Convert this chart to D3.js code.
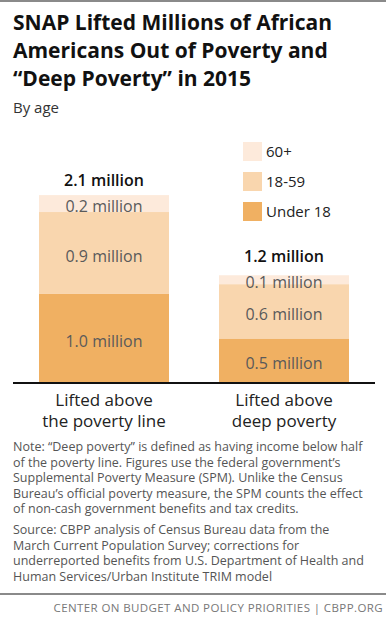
<!DOCTYPE html>
<html>
<head>
<meta charset="utf-8">
<script src="https://cdn.jsdelivr.net/npm/d3@7"></script>
<style>
  body { margin: 0; background: #fff; }
  svg { display: block; font-family: "Open Sans", sans-serif; }
</style>
</head>
<body>
<svg id="chart" width="386" height="630"></svg>
<script>
// data
var categories = [["Lifted above", "the poverty line"], ["Lifted above", "deep poverty"]];
var groups = ["Under 18", "18-59", "60+"];
var under18 = [1.0, 0.5];
var age18to59 = [0.92, 0.61];
var age60plus = [0.19, 0.1];
var colors = ["#f0b062", "#f9d6ae", "#fdeadb"];

var titleLines = ["SNAP Lifted Millions of African", "Americans Out of Poverty and", "\u201cDeep Poverty\u201d in 2015"];
var noteLines = [
  "Note: \u201cDeep poverty\u201d is defined as having income below half",
  "of the poverty line. Figures use the federal government\u2019s",
  "Supplemental Poverty Measure (SPM). Unlike the Census",
  "Bureau\u2019s official poverty measure, the SPM counts the effect",
  "of non-cash government benefits and tax credits."
];
var sourceLines = [
  "Source: CBPP analysis of Census Bureau data from the",
  "March Current Population Survey; corrections for",
  "underreported benefits from U.S. Department of Health and",
  "Human Services/Urban Institute TRIM model"
];

var svg = d3.select("#chart");

// rahmen oben / unten
svg.append("rect").attr("x", 0).attr("y", 0).attr("width", 386).attr("height", 2).attr("fill", "#8a8a8a");
svg.append("rect").attr("x", 0).attr("y", 593).attr("width", 386).attr("height", 2).attr("fill", "#8a8a8a");

// title
svg.append("g").selectAll("text")
  .data(titleLines)
  .enter()
  .append("text")
  .attr("x", 13)
  .attr("y", function(d, i){ return 30 + i * 28; })
  .attr("font-size", "21px")
  .attr("font-weight", "bold")
  .attr("fill", "#111")
  .text(function(d){ return d; });

svg.append("text")
  .attr("x", 13).attr("y", 113)
  .attr("font-size", "15px")
  .attr("fill", "#333")
  .text("By age");

// stack data
var rows = categories.map(function(c, i){
  return { cat: i, "Under 18": under18[i], "18-59": age18to59[i], "60+": age60plus[i] };
});
var stack = d3.stack().keys(groups);
var series = stack(rows);

var x = d3.scaleBand()
  .domain(d3.range(categories.length))
  .range([39, 349])
  .paddingInner(50 / 180)
  .paddingOuter(0);

var y = d3.scaleLinear()
  .domain([0, 2.1])
  .range([383, 196]);

var bars = svg.append("g");

series.forEach(function(s, k){
  var g = bars.append("g").attr("fill", colors[k]);
  g.selectAll("rect")
    .data(s)
    .enter()
    .append("rect")
    .attr("x", function(d, i){ return x(i); })
    .attr("y", function(d){ return y(d[1]); })
    .attr("width", x.bandwidth())
    .attr("height", function(d){ return y(d[0]) - y(d[1]); });

  // segment labels
  bars.append("g").selectAll("text")
    .data(s)
    .enter()
    .append("text")
    .attr("x", function(d, i){ return x(i) + x.bandwidth() / 2; })
    .attr("y", function(d){ return (y(d[0]) + y(d[1])) / 2 + 3; })
    .attr("dy", "0.35em")
    .attr("text-anchor", "middle")
    .attr("font-size", "16px")
    .attr("fill", "#5a5a5a")
    .text(function(d){ return (d[1] - d[0]).toFixed(1) + " million"; });
});

// totals
var totals = rows.map(function(r){ return r["Under 18"] + r["18-59"] + r["60+"]; });
svg.append("g").selectAll("text")
  .data(totals)
  .enter()
  .append("text")
  .attr("x", function(d, i){ return x(i) + x.bandwidth() / 2; })
  .attr("y", function(d, i){ return y(d) - (i == 0 ? 9 : 13); })
  .attr("text-anchor", "middle")
  .attr("font-size", "16px")
  .attr("font-weight", "600")
  .attr("fill", "#111")
  .text(function(d){ return d.toFixed(1) + " million"; });

// baseline
svg.append("line")
  .attr("x1", 13).attr("x2", 375)
  .attr("y1", y(0)).attr("y2", y(0))
  .attr("stroke", "#111").attr("stroke-width", 2);

// category labels
var cat = svg.append("g");
categories.forEach(function(lines, i){
  cat.selectAll(null)
    .data(lines)
    .enter()
    .append("text")
    .attr("x", x(i) + x.bandwidth() / 2)
    .attr("y", function(d, j){ return 406 + j * 21; })
    .attr("text-anchor", "middle")
    .attr("font-size", "17px")
    .attr("fill", "#222")
    .text(function(d){ return d; });
});

// legend (reihenfolge von oben: 60+, 18-59, Under 18)
var legend = svg.append("g");
var legendItems = groups.slice().reverse();
legend.selectAll("rect")
  .data(legendItems)
  .enter()
  .append("rect")
  .attr("x", 243)
  .attr("y", function(d, i){ return 142 + i * 30; })
  .attr("width", 19).attr("height", 19)
  .attr("fill", function(d){ return colors[groups.indexOf(d)]; });
legend.selectAll("text")
  .data(legendItems)
  .enter()
  .append("text")
  .attr("x", 266)
  .attr("y", function(d, i){ return 157 + i * 30; })
  .attr("font-size", "15px")
  .attr("fill", "#222")
  .text(function(d){ return d; });

// notes
svg.append("g").selectAll("text")
  .data(noteLines)
  .enter()
  .append("text")
  .attr("x", 13)
  .attr("y", function(d, i){ return 451 + i * 15.5; })
  .attr("font-size", "12.5px")
  .attr("fill", "#555")
  .text(function(d){ return d; });

svg.append("g").selectAll("text")
  .data(sourceLines)
  .enter()
  .append("text")
  .attr("x", 13)
  .attr("y", function(d, i){ return 534 + i * 15.5; })
  .attr("font-size", "12.5px")
  .attr("fill", "#555")
  .text(function(d){ return d; });

// footer
svg.append("text")
  .attr("x", 383).attr("y", 612)
  .attr("text-anchor", "end")
  .attr("font-size", "11.5px")
  .attr("letter-spacing", "0.4px")
  .attr("fill", "#777")
  .text("CENTER ON BUDGET AND POLICY PRIORITIES | CBPP.ORG");
</script>
</body>
</html>
